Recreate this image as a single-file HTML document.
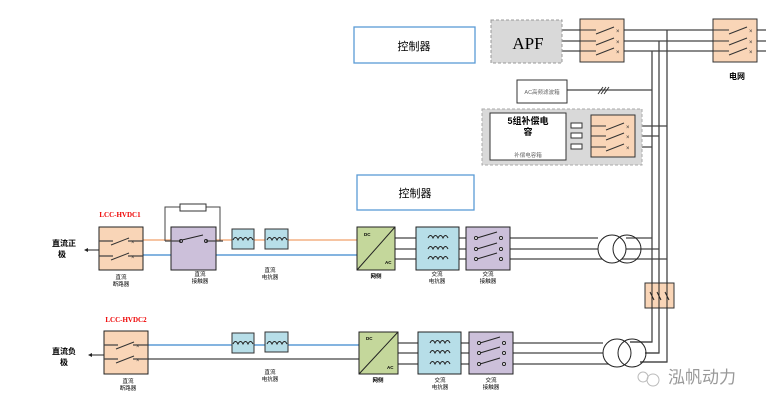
<!DOCTYPE html>
<html><head><meta charset="utf-8"><style>
body{margin:0;background:#fff}
svg{display:block;font-family:"Liberation Sans","Noto Sans CJK SC",sans-serif}
</style></head><body>
<svg width="766" height="409" viewBox="0 0 766 409" xmlns="http://www.w3.org/2000/svg">
<defs>
<g id="sw"><line x1="-10" y1="4" x2="8" y2="-3" stroke="#333" stroke-width="1"/><text x="10" y="3" font-size="6" fill="#333">×</text></g>
<g id="coil"><path d="M-10 0 q2.5-5 5 0 q2.5-5 5 0 q2.5-5 5 0 q2.5-5 5 0" fill="none" stroke="#222" stroke-width="1"/></g>
</defs>
<!-- vertical buses -->
<g stroke="#444" stroke-width="1.3" fill="none">
<path d="M624 30H713 M757 30H766"/>
<path d="M624 41H713 M757 41H766"/>
<path d="M624 51H713 M757 51H766"/>
<path d="M652 51V342H630"/>
<path d="M659 41V353H645"/>
<path d="M667 30V362H640"/>
<path d="M562 30H580 M562 41H580 M562 51H580"/>
<path d="M567 90H652"/>
<path d="M635 126H667 M635 136H659 M635 147H652"/>
<path d="M566 126H591 M566 136H591 M566 147H591"/>
</g>
<g stroke="#333" stroke-width="1"><line x1="598" y1="94" x2="603" y2="87"/><line x1="601" y1="94" x2="606" y2="87"/><line x1="604" y1="94" x2="609" y2="87"/></g>
<!-- controllers -->
<rect x="354" y="27" width="121" height="36" fill="#fff" stroke="#5b9bd5" stroke-width="1.3"/>
<text x="414" y="50" font-size="11" text-anchor="middle">控制器</text>
<rect x="357" y="175" width="117" height="35" fill="#fff" stroke="#5b9bd5" stroke-width="1.3"/>
<text x="415" y="197" font-size="11" text-anchor="middle">控制器</text>
<!-- APF -->
<rect x="491" y="20" width="71" height="43" fill="#d9d9d9" stroke="#999" stroke-dasharray="3,2"/>
<text x="528" y="49" font-size="17" font-family="Liberation Serif,serif" text-anchor="middle">APF</text>
<g fill="#f9d5b7" stroke="#333" stroke-width="1"><rect x="580" y="19" width="44" height="43"/><rect x="713" y="19" width="44" height="43"/></g>
<g stroke="#333" stroke-width="1"><path d="M580 30H596 M580 41H596 M580 51H596 M713 30H729 M713 41H729 M713 51H729"/></g>
<use href="#sw" x="606" y="30"/><use href="#sw" x="606" y="41"/><use href="#sw" x="606" y="51"/>
<use href="#sw" x="739" y="30"/><use href="#sw" x="739" y="41"/><use href="#sw" x="739" y="51"/>
<text x="737" y="79" font-size="8" font-weight="bold" text-anchor="middle">电网</text>
<!-- AC filter -->
<rect x="517" y="80" width="50" height="23" fill="#fff" stroke="#333"/>
<text x="542" y="94" font-size="5.5" fill="#666" text-anchor="middle">AC高频滤波箱</text>
<!-- comp area -->
<rect x="482" y="109" width="160" height="56" fill="#d9d9d9" stroke="#aaa" stroke-dasharray="3,2"/>
<rect x="490" y="113" width="76" height="47" fill="#fff" stroke="#333"/>
<text x="528" y="124" font-size="9" font-weight="bold" text-anchor="middle">5组补偿电</text>
<text x="528" y="135" font-size="9" font-weight="bold" text-anchor="middle">容</text>
<text x="528" y="157" font-size="5.5" fill="#666" text-anchor="middle">补偿电容箱</text>
<g fill="#fff" stroke="#333"><rect x="571" y="123" width="11" height="5"/><rect x="571" y="133" width="11" height="5"/><rect x="571" y="144" width="11" height="5"/></g>
<rect x="591" y="115" width="44" height="42" fill="#f9d5b7" stroke="#333"/>
<g stroke="#333"><path d="M591 126H606 M591 136H606 M591 147H606"/></g>
<use href="#sw" x="616" y="126"/><use href="#sw" x="616" y="136"/><use href="#sw" x="616" y="147"/>

<!-- Row 1 -->
<text x="120" y="217" font-size="7" font-weight="bold" fill="#e00" text-anchor="middle" font-family="Liberation Serif,serif">LCC-HVDC1</text>
<line x1="143" y1="240" x2="357" y2="240" stroke="#f4b183" stroke-width="1.5"/>
<line x1="143" y1="255" x2="357" y2="255" stroke="#5b9bd5" stroke-width="1.5"/>
<path d="M165 241V207H220V241" fill="none" stroke="#444"/>
<rect x="180" y="204" width="26" height="7" fill="#fff" stroke="#333"/>
<rect x="99" y="227" width="44" height="43" fill="#f9d5b7" stroke="#222"/>
<path d="M99 241H113 M99 256H113 M128 241H143 M128 256H143" stroke="#444" stroke-width="1.3"/>
<use href="#sw" x="121" y="241"/><use href="#sw" x="121" y="256"/>
<path d="M99 250H86" stroke="#222"/><path d="M84 250l4-2v4z" fill="#222"/>
<text x="64" y="246" font-size="8" font-weight="bold" text-anchor="middle">直流正</text>
<text x="62" y="257" font-size="8" font-weight="bold" text-anchor="middle">极</text>
<rect x="171" y="227" width="45" height="43" fill="#ccc0da" stroke="#222"/>
<path d="M165 241H181 M206 241H223" stroke="#444" stroke-width="1.3"/>
<circle cx="181" cy="241" r="1.5" fill="none" stroke="#222"/><circle cx="206" cy="241" r="1.5" fill="none" stroke="#222"/>
<line x1="182" y1="240" x2="203" y2="235" stroke="#222"/>
<text x="121" y="279" font-size="5.5" text-anchor="middle">直流</text><text x="121" y="286" font-size="5.5" text-anchor="middle">断路器</text>
<text x="200" y="276" font-size="5.5" text-anchor="middle">直流</text><text x="200" y="283" font-size="5.5" text-anchor="middle">接触器</text>
<g fill="#b7dee8" stroke="#333"><rect x="232" y="229" width="22" height="20"/><rect x="265" y="229" width="23" height="20"/></g>
<use href="#coil" x="243" y="240"/><use href="#coil" x="277" y="240"/>
<text x="270" y="272" font-size="5.5" text-anchor="middle">直流</text><text x="270" y="279" font-size="5.5" text-anchor="middle">电抗器</text>

<!-- Row 2 -->
<text x="126" y="322" font-size="7" font-weight="bold" fill="#e00" text-anchor="middle" font-family="Liberation Serif,serif">LCC-HVDC2</text>
<line x1="148" y1="345" x2="359" y2="345" stroke="#5b9bd5" stroke-width="1.5"/>
<line x1="148" y1="359" x2="359" y2="359" stroke="#444" stroke-width="1.2"/>
<rect x="104" y="331" width="44" height="43" fill="#f9d5b7" stroke="#222"/>
<path d="M104 345H118 M104 359H118 M133 345H148 M133 359H148" stroke="#444" stroke-width="1.3"/>
<use href="#sw" x="126" y="345"/><use href="#sw" x="126" y="359"/>
<path d="M104 355H91" stroke="#222"/><path d="M88 355l4-2v4z" fill="#222"/>
<text x="64" y="354" font-size="8" font-weight="bold" text-anchor="middle">直流负</text>
<text x="64" y="365" font-size="8" font-weight="bold" text-anchor="middle">极</text>
<text x="128" y="383" font-size="5.5" text-anchor="middle">直流</text><text x="128" y="390" font-size="5.5" text-anchor="middle">断路器</text>
<g fill="#b7dee8" stroke="#333"><rect x="232" y="333" width="22" height="20"/><rect x="265" y="332" width="23" height="20"/></g>
<use href="#coil" x="243" y="344"/><use href="#coil" x="277" y="344"/>
<text x="270" y="374" font-size="5.5" text-anchor="middle">直流</text><text x="270" y="381" font-size="5.5" text-anchor="middle">电抗器</text>

<!-- AC section row1 -->
<g stroke="#444" stroke-width="1.3"><path d="M395 238H598 M395 249H598 M395 259H667"/><path d="M626 238H652 M626 249H659"/></g>
<rect x="357" y="227" width="38" height="43" fill="#c4d79b" stroke="#222"/>
<line x1="357" y1="270" x2="395" y2="227" stroke="#222"/>
<text x="364" y="236" font-size="4.5" font-weight="bold">DC</text><text x="385" y="264" font-size="4.5" font-weight="bold">AC</text>
<text x="376" y="278" font-size="5.5" font-weight="bold" text-anchor="middle">网侧</text>
<rect x="416" y="227" width="43" height="43" fill="#b7dee8" stroke="#222"/>
<use href="#coil" x="438" y="238"/><use href="#coil" x="438" y="249"/><use href="#coil" x="438" y="259"/>
<text x="437" y="276" font-size="5.5" text-anchor="middle">交流</text><text x="437" y="283" font-size="5.5" text-anchor="middle">电抗器</text>
<rect x="466" y="227" width="44" height="43" fill="#ccc0da" stroke="#222"/>
<g fill="#fff" stroke="#222"><circle cx="476" cy="238" r="1.5"/><circle cx="476" cy="249" r="1.5"/><circle cx="476" cy="259" r="1.5"/><circle cx="501" cy="238" r="1.5"/><circle cx="501" cy="249" r="1.5"/><circle cx="501" cy="259" r="1.5"/></g>
<g stroke="#222"><line x1="477" y1="238" x2="497" y2="232"/><line x1="477" y1="249" x2="497" y2="243"/><line x1="477" y1="259" x2="497" y2="253"/></g>
<text x="488" y="276" font-size="5.5" text-anchor="middle">交流</text><text x="488" y="283" font-size="5.5" text-anchor="middle">接触器</text>
<g fill="#fff" stroke="#222"><circle cx="612" cy="249" r="14"/></g><circle cx="627" cy="249" r="14" fill="none" stroke="#222"/>

<!-- AC section row2 -->
<g stroke="#444" stroke-width="1.3"><path d="M398 343H603 M398 353H603 M398 364H610"/><path d="M630 342H652 M645 353H659 M640 362H667"/></g>
<rect x="359" y="332" width="39" height="42" fill="#c4d79b" stroke="#222"/>
<line x1="359" y1="374" x2="398" y2="332" stroke="#222"/>
<text x="366" y="340" font-size="4.5" font-weight="bold">DC</text><text x="387" y="369" font-size="4.5" font-weight="bold">AC</text>
<text x="378" y="382" font-size="5.5" font-weight="bold" text-anchor="middle">网侧</text>
<rect x="418" y="332" width="43" height="42" fill="#b7dee8" stroke="#222"/>
<use href="#coil" x="440" y="343"/><use href="#coil" x="440" y="353"/><use href="#coil" x="440" y="364"/>
<text x="440" y="382" font-size="5.5" text-anchor="middle">交流</text><text x="440" y="389" font-size="5.5" text-anchor="middle">电抗器</text>
<rect x="469" y="332" width="44" height="42" fill="#ccc0da" stroke="#222"/>
<g fill="#fff" stroke="#222"><circle cx="479" cy="343" r="1.5"/><circle cx="479" cy="353" r="1.5"/><circle cx="479" cy="364" r="1.5"/><circle cx="504" cy="343" r="1.5"/><circle cx="504" cy="353" r="1.5"/><circle cx="504" cy="364" r="1.5"/></g>
<g stroke="#222"><line x1="480" y1="343" x2="500" y2="337"/><line x1="480" y1="353" x2="500" y2="347"/><line x1="480" y1="364" x2="500" y2="358"/></g>
<text x="491" y="382" font-size="5.5" text-anchor="middle">交流</text><text x="491" y="389" font-size="5.5" text-anchor="middle">接触器</text>
<circle cx="617" cy="353" r="14" fill="#fff" stroke="#222"/><circle cx="632" cy="353" r="14" fill="none" stroke="#222"/>

<!-- tie breaker -->
<rect x="645" y="283" width="29" height="25" fill="#f9d5b7" stroke="#333"/>
<g stroke="#222"><line x1="652" y1="283" x2="652" y2="308"/><line x1="659" y1="283" x2="659" y2="308"/><line x1="667" y1="283" x2="667" y2="308"/>
<line x1="650" y1="292" x2="654" y2="300"/><line x1="657" y1="292" x2="661" y2="300"/><line x1="665" y1="292" x2="669" y2="300"/></g>

<!-- watermark -->
<g stroke="#bbb" fill="none"><circle cx="643" cy="377" r="5"/><circle cx="653" cy="380" r="6"/></g>
<text x="668" y="383" font-size="17" fill="#999">泓帆动力</text>
</svg>
</body></html>
